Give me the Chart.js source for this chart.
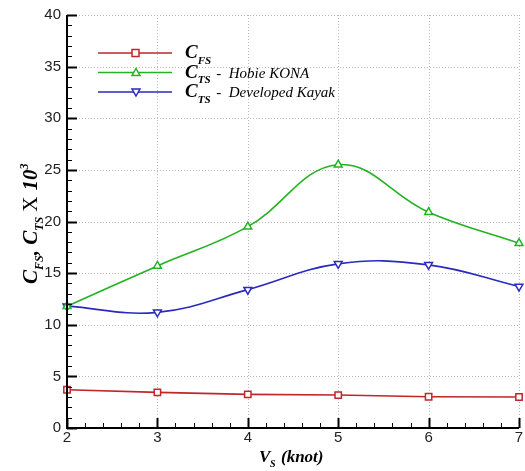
<!DOCTYPE html>
<html>
<head>
<meta charset="utf-8">
<script src="https://cdn.jsdelivr.net/npm/chart.js@4.4.1/dist/chart.umd.min.js"></script>
<style>
  html, body { margin: 0; padding: 0; background: #fff; }
  #wrap { width: 525px; height: 471px; position: relative; }
</style>
</head>
<body>
<div id="wrap"><canvas id="myChart" width="525" height="471"></canvas></div>
<script>
// velocita (knot)
const velocita = [2, 3, 4, 5, 6, 7];
// coefficienti x 10^3
const cfs = [3.7, 3.45, 3.26, 3.19, 3.03, 3.0];
const ctsHobie = [11.8, 15.7, 19.5, 25.5, 20.9, 17.9];
const ctsKayak = [11.8, 11.2, 13.4, 15.9, 15.8, 13.7];
const yTicks = [0, 5, 10, 15, 20, 25, 30, 35, 40];

const serie = [
  { dati: cfs, colore: "#c0262a", stile: "rect", rot: 0, label: ["FS", ""] },
  { dati: ctsHobie, colore: "#22b222", stile: "triangle", rot: 0, label: ["TS", "Hobie KONA"] },
  { dati: ctsKayak, colore: "#2a2ac0", stile: "triangle", rot: 180, label: ["TS", "Developed Kayak"] },
];

// testo con pedice: C + sub + resto
function scriviC(ctx, x, y, sub, resto, size) {
  ctx.save();
  ctx.fillStyle = "#000";
  ctx.textBaseline = "alphabetic";
  ctx.textAlign = "left";
  ctx.font = `italic bold ${size}px "Liberation Serif", serif`;
  ctx.fillText("C", x, y);
  let w = ctx.measureText("C").width;
  ctx.font = `italic bold ${Math.round(size * 0.6)}px "Liberation Serif", serif`;
  ctx.fillText(sub, x + w, y + size * 0.3);
  w += ctx.measureText(sub).width;
  if (resto) {
    ctx.font = `italic ${Math.round(size * 0.8)}px "Liberation Serif", serif`;
    ctx.fillText(" -  " + resto, x + w + 2, y);
  }
  ctx.restore();
}

const griglia = {
  id: "griglia",
  beforeDatasetsDraw(chart) {
    const ctx = chart.ctx;
    const a = chart.chartArea;
    const xs = chart.scales.x;
    const ys = chart.scales.y;
    ctx.save();
    ctx.strokeStyle = "#b8b8b8";
    ctx.lineWidth = 1;
    ctx.setLineDash([1, 2]);
    velocita.forEach((v) => {
      const px = Math.round(xs.getPixelForValue(v)) + 0.5;
      ctx.beginPath();
      ctx.moveTo(px, a.top);
      ctx.lineTo(px, a.bottom);
      ctx.stroke();
    });
    yTicks.forEach((v) => {
      const py = Math.round(ys.getPixelForValue(v)) + 0.5;
      ctx.beginPath();
      ctx.moveTo(a.left, py);
      ctx.lineTo(a.right, py);
      ctx.stroke();
    });
    ctx.restore();
  },
};

const decorazioni = {
  id: "decorazioni",
  afterDraw(chart) {
    const ctx = chart.ctx;
    const a = chart.chartArea;
    const xs = chart.scales.x;
    const ys = chart.scales.y;
    ctx.save();
    ctx.strokeStyle = "#000";
    // tacche minori e maggiori verso l'interno
    for (let v = 2; v <= 7.001; v += 0.2) {
      const px = Math.round(xs.getPixelForValue(v)) + 0.5;
      const maggiore = Math.abs(v - Math.round(v)) < 0.01;
      ctx.lineWidth = maggiore ? 2 : 1;
      ctx.beginPath();
      ctx.moveTo(px, a.bottom);
      ctx.lineTo(px, a.bottom - (maggiore ? 10 : 5));
      ctx.stroke();
    }
    for (let v = 0; v <= 40; v += 1) {
      const py = Math.round(ys.getPixelForValue(v)) + 0.5;
      const maggiore = v % 5 === 0;
      ctx.lineWidth = maggiore ? 2 : 1;
      ctx.beginPath();
      ctx.moveTo(a.left, py);
      ctx.lineTo(a.left + (maggiore ? 10 : 5), py);
      ctx.stroke();
    }
    // assi
    ctx.lineWidth = 2;
    ctx.beginPath();
    ctx.moveTo(a.left, a.top);
    ctx.lineTo(a.left, a.bottom);
    ctx.lineTo(a.right, a.bottom);
    ctx.stroke();

    // titolo asse x
    ctx.fillStyle = "#000";
    ctx.font = 'italic bold 17px "Liberation Serif", serif';
    ctx.textAlign = "left";
    ctx.fillText("V", 259, 462);
    ctx.font = 'italic bold 10px "Liberation Serif", serif';
    ctx.fillText("S", 270, 467);
    ctx.font = 'italic bold 17px "Liberation Serif", serif';
    ctx.fillText("(knot)", 281, 462);

    // titolo asse y (ruotato)
    ctx.save();
    ctx.translate(37, 284);
    ctx.rotate(-Math.PI / 2);
    ctx.font = 'italic bold 21px "Liberation Serif", serif';
    ctx.fillText("C", 0, 0);
    let w = ctx.measureText("C").width;
    ctx.font = 'italic bold 12px "Liberation Serif", serif';
    ctx.fillText("FS", w, 6);
    w += ctx.measureText("FS").width;
    ctx.font = 'italic bold 21px "Liberation Serif", serif';
    ctx.fillText(",", w, 0);
    w += ctx.measureText(", ").width;
    ctx.fillText("C", w, 0);
    w += ctx.measureText("C").width;
    ctx.font = 'italic bold 12px "Liberation Serif", serif';
    ctx.fillText("TS", w, 6);
    w += ctx.measureText("TS").width + 5;
    ctx.font = '21px "Liberation Serif", serif';
    ctx.fillText("X", w, 0);
    w += ctx.measureText("X ").width + 1;
    ctx.font = 'italic bold 21px "Liberation Serif", serif';
    ctx.fillText("10", w, 0);
    w += ctx.measureText("10").width;
    ctx.font = 'italic bold 12px "Liberation Serif", serif';
    ctx.fillText("3", w, -9);
    ctx.restore();

    // legenda
    serie.forEach((s, i) => {
      const y = 53 + i * 19.5;
      ctx.strokeStyle = s.colore;
      ctx.lineWidth = 1.6;
      ctx.beginPath();
      ctx.moveTo(98, y);
      ctx.lineTo(172, y);
      ctx.stroke();
      ctx.fillStyle = "#fff";
      ctx.lineWidth = 1.5;
      ctx.beginPath();
      if (s.stile === "rect") {
        ctx.rect(132, y - 3.5, 7, 7);
      } else if (s.rot === 0) {
        ctx.moveTo(136, y - 4);
        ctx.lineTo(140, y + 3);
        ctx.lineTo(132, y + 3);
        ctx.closePath();
      } else {
        ctx.moveTo(136, y + 4);
        ctx.lineTo(140, y - 3);
        ctx.lineTo(132, y - 3);
        ctx.closePath();
      }
      ctx.fill();
      ctx.stroke();
      scriviC(ctx, 185, y + 5, s.label[0], s.label[1], 19);
    });
    ctx.restore();
  },
};

new Chart(document.getElementById("myChart"), {
  type: "line",
  data: {
    datasets: serie.map((s, i) => ({
      label: ["C_FS", "C_TS - Hobie KONA", "C_TS - Developed Kayak"][i],
      data: velocita.map((v, j) => ({ x: v, y: s.dati[j] })),
      borderColor: s.colore,
      borderWidth: 1.6,
      pointStyle: s.stile,
      rotation: s.rot,
      pointRadius: 4.5,
      pointBackgroundColor: "#fff",
      pointBorderColor: s.colore,
      pointBorderWidth: 1.5,
      tension: i === 0 ? 0 : 0.4,
      clip: false,
    })),
  },
  options: {
    responsive: false,
    animation: false,
    layout: { padding: { top: 15, right: 3, left: 0, bottom: 0 } },
    plugins: { legend: { display: false }, tooltip: { enabled: false } },
    scales: {
      x: {
        type: "linear",
        min: 2,
        max: 7,
        afterFit: (s) => { s.height = 43; },
        afterBuildTicks: (s) => { s.ticks = velocita.map((v) => ({ value: v })); },
        ticks: { color: "#222", font: { family: "Liberation Sans", size: 15 }, padding: 1 },
        grid: { display: false, drawTicks: false },
        border: { display: false },
      },
      y: {
        type: "linear",
        min: 0,
        max: 40,
        afterFit: (s) => { s.width = 67; },
        afterBuildTicks: (s) => { s.ticks = yTicks.map((v) => ({ value: v })); },
        ticks: { color: "#222", font: { family: "Liberation Sans", size: 15 }, padding: 6 },
        grid: { display: false, drawTicks: false },
        border: { display: false },
      },
    },
  },
  plugins: [griglia, decorazioni],
});
</script>
</body>
</html>
